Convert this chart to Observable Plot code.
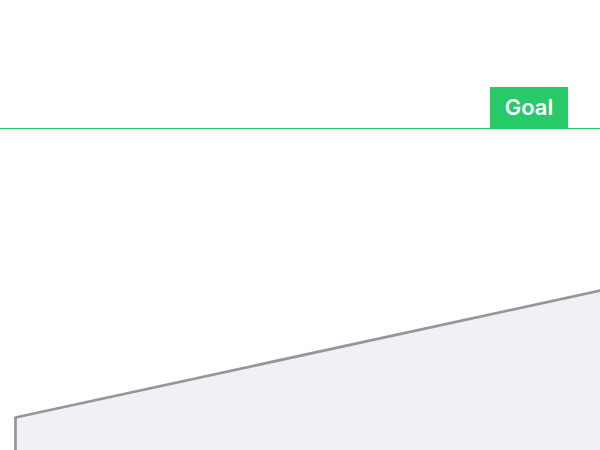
<!DOCTYPE html>
<html>
<head>
<meta charset="utf-8">
<script src="https://cdn.jsdelivr.net/npm/d3@7"></script>
<script src="https://cdn.jsdelivr.net/npm/@observablehq/plot@0.6"></script>
<style>
  body { margin: 0; background: #fff; }
  #chart svg { display: block; }
</style>
</head>
<body>
<div id="chart"></div>
<script>
// progress values
const steps = [0, 10];
const progress = [3.3, 16];
const goal = 32.2;
const goalLabel = 'Goal';

const green = '#27ca68';
const gray = '#97969f';

const data = steps.map((s, i) => ({ step: s, value: progress[i] }));

// green tag sitting on the goal line, near the right edge
function goalTag(index, scales, values, dimensions) {
  const y = scales.y(goal);
  const g = d3.create('svg:g');
  g.append('rect')
    .attr('x', dimensions.width - 32 - 78)
    .attr('y', y - 41)
    .attr('width', 78)
    .attr('height', 41)
    .attr('fill', green);
  g.append('text')
    .attr('x', dimensions.width - 32 - 39)
    .attr('y', y - 20.5)
    .attr('dy', '0.36em')
    .attr('text-anchor', 'middle')
    .attr('fill', 'white')
    .attr('font-family', 'Inter')
    .attr('font-weight', 600)
    .attr('font-size', 22)
    .text(goalLabel);
  return g.node();
}

let chart = Plot.plot({
  width: 600,
  height: 450,
  marginTop: 0,
  marginBottom: 0,
  marginLeft: 0,
  marginRight: 0,
  x: { domain: [-0.256, 10], axis: null },
  y: { domain: [0, 45], axis: null },
  marks: [
    Plot.areaY(data, { x: 'step', y: 'value', fill: '#f0f1f5' }),
    Plot.ruleX([steps[0]], { y1: 0, y2: progress[0], stroke: gray, strokeWidth: 2.75 }),
    Plot.lineY(data, { x: 'step', y: 'value', stroke: gray, strokeWidth: 2.75 }),
    Plot.ruleY([goal], { stroke: green, strokeWidth: 1.2 }),
    goalTag,
  ],
  style: {
    'background-color': 'white',
    'font-family': 'Inter',
  },
});

d3.select('#chart').append(() => chart);
</script>
</body>
</html>
